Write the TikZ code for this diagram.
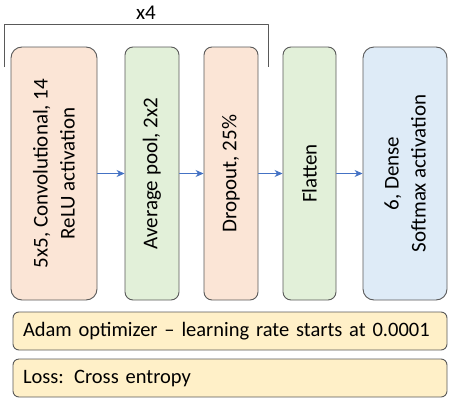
\documentclass[tikz,border=0pt]{standalone}
\usepackage{fontspec}
\setmainfont{Carlito}
\usepackage{xcolor}
\usetikzlibrary{arrows.meta}
\definecolor{layorange}{HTML}{FBE5D6}
\definecolor{laygreen}{HTML}{E2F0D9}
\definecolor{layblue}{HTML}{DEEBF7}
\definecolor{layyellow}{HTML}{FFF0C8}
\definecolor{layedge}{HTML}{595959}
\definecolor{flowblue}{HTML}{4472C4}
\tikzset{
  every picture/.style={line join=round, line cap=round, >=Stealth},
  layer/.style={draw=layedge, line width=0.9pt, rounded corners=8pt, rotate=90,
    minimum width=253pt, inner sep=0pt, align=center,
    font=\fontsize{21}{27}\selectfont},
  setting/.style={draw=layedge, line width=0.9pt, rounded corners=6pt, fill=layyellow,
    minimum height=38pt, text width=414pt, inner xsep=10pt, inner ysep=0pt, align=left,
    font=\fontsize{20.5}{24}\selectfont},
  flow/.style={-{Stealth[length=8pt,width=7pt]}, draw=flowblue, line width=0.8pt},
}

\begin{document}
\begin{tikzpicture}[x=1pt,y=-1pt]
\useasboundingbox (0,0) rectangle (449,399);
% layers
\node[layer, fill=layorange, minimum height=86pt, rounded corners=11pt] (conv) at (54,173.5)
  {5x5, Convolutional, 14\\ReLU activation};
\node[layer, fill=laygreen, minimum height=54pt] (pool) at (152,173.5) {Average pool, 2x2};
\node[layer, fill=layorange, minimum height=54pt] (drop) at (231,173.5) {Dropout, 25\%};
\node[layer, fill=laygreen, minimum height=53pt] (flat) at (309.5,173.5) {Flatten};
\node[layer, fill=layblue, minimum height=84pt, rounded corners=11pt] (dense) at (405,173.5)
  {6, Dense\\Softmax activation};
% connections
\draw[flow] (conv.south) -- (pool.north);
\draw[flow] (pool.south) -- (drop.north);
\draw[flow] (drop.south) -- (flat.north);
\draw[flow] (flat.south) -- (dense.north);
% repeat bracket
\coordinate (bl) at (4,67);
\coordinate (br) at (268,67);
\draw[layedge, line width=0.8pt, line cap=butt] (bl) -- (4,24) -- (268,24) -- (br);
\node[font=\fontsize{21}{26}\selectfont] (rep) at (146,13) {x4};
% training settings
\node[setting] (optim) at (230,331) {Adam optimizer -- learning rate starts at 0.0001};
\node[setting] (loss) at (230,378) {Loss: Cross entropy};
\end{tikzpicture}
\end{document}
